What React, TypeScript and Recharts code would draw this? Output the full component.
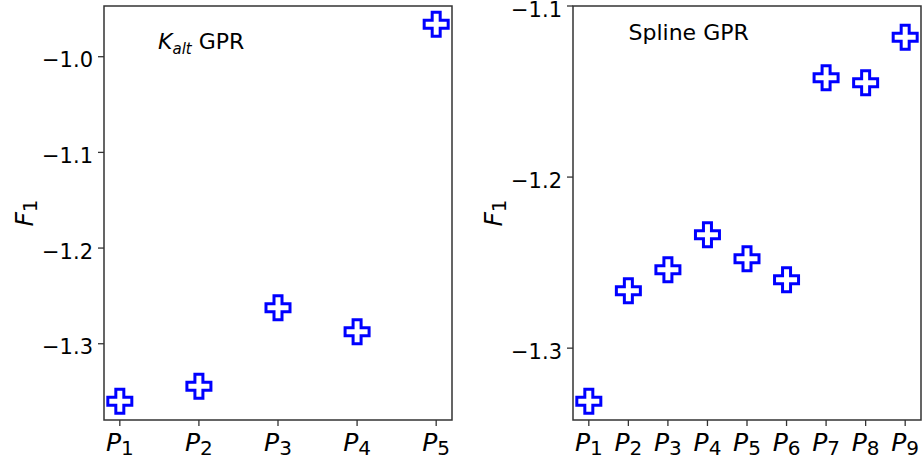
import React from 'react';
import { ScatterChart, Scatter, XAxis, YAxis, ReferenceArea } from 'recharts';

// K_alt GPR panel
const leftIdx = [1, 2, 3, 4, 5];
const leftF1 = [-1.360, -1.3445, -1.2625, -1.2875, -0.966];
const leftYTicks = [-1.3, -1.2, -1.1, -1.0];
const leftXDomain: [number, number] = [0.8, 5.2];
const leftYDomain: [number, number] = [-1.3797, -0.947];

// Spline GPR panel
const rightIdx = [1, 2, 3, 4, 5, 6, 7, 8, 9];
const rightF1 = [-1.331, -1.2664, -1.2542, -1.2337, -1.2477, -1.26, -1.142, -1.1449, -1.1182];
const rightYTicks = [-1.3, -1.2, -1.1];
const rightXDomain: [number, number] = [0.6, 9.4];
const rightYDomain: [number, number] = [-1.342, -1.1];

const FONT = '"DejaVu Sans", sans-serif';
const BLUE = '#0000ff';
const SPINE = '#333';

const toRows = (xs: number[], ys: number[]) => xs.map((x, i) => ({ x, y: ys[i] }));

// filled-plus marker ('P' style), white face with blue edge
function PlusMarker(props: any) {
  const { cx, cy } = props;
  if (cx == null || cy == null) return null;
  const s = 12;
  const a = 4;
  const d =
    `M${cx - a},${cy - s}L${cx + a},${cy - s}L${cx + a},${cy - a}L${cx + s},${cy - a}` +
    `L${cx + s},${cy + a}L${cx + a},${cy + a}L${cx + a},${cy + s}L${cx - a},${cy + s}` +
    `L${cx - a},${cy + a}L${cx - s},${cy + a}L${cx - s},${cy - a}L${cx - a},${cy - a}Z`;
  return <path d={d} fill="#fff" stroke={BLUE} strokeWidth={3} />;
}

function PTick(props: any) {
  const { x, y, payload } = props;
  return (
    <text x={x} y={y + 23} textAnchor="middle" fontFamily={FONT} fontSize={25} fill="#000">
      <tspan fontStyle="italic">P</tspan>
      <tspan fontSize={20} dy={4}>{payload.value}</tspan>
    </text>
  );
}

// y tick labels use a real minus sign
function YTick(props: any) {
  const { x, y, payload } = props;
  const label = Number(payload.value).toFixed(1).replace('-', '\u2212');
  return (
    <text x={x} y={y + 10.5} textAnchor="end" fontFamily={FONT} fontSize={21} fill="#000">
      {label}
    </text>
  );
}

type PanelProps = {
  rows: { x: number; y: number }[];
  ticksX: number[];
  ticksY: number[];
  xDomain: [number, number];
  yDomain: [number, number];
  width: number;
  yAxisWidth: number;
  marginRight: number;
};

function Panel({ rows, ticksX, ticksY, xDomain, yDomain, width, yAxisWidth, marginRight }: PanelProps) {
  return (
    <ScatterChart width={width} height={464} margin={{ top: 6, right: marginRight, bottom: 0, left: 0 }}>
      <XAxis
        type="number"
        dataKey="x"
        domain={xDomain}
        ticks={ticksX}
        interval={0}
        allowDataOverflow
        height={44}
        axisLine={false}
        tickSize={6}
        tickLine={{ stroke: SPINE, strokeWidth: 1.3 }}
        tick={<PTick />}
      />
      <YAxis
        type="number"
        dataKey="y"
        domain={yDomain}
        ticks={ticksY}
        interval={0}
        allowDataOverflow
        width={yAxisWidth}
        axisLine={false}
        tickSize={6}
        tickMargin={5}
        tickLine={{ stroke: SPINE, strokeWidth: 1.3 }}
        tick={<YTick />}
      />
      <ReferenceArea
        x1={xDomain[0]}
        x2={xDomain[1]}
        y1={yDomain[0]}
        y2={yDomain[1]}
        fill="none"
        fillOpacity={0}
        stroke={SPINE}
        strokeWidth={1.5}
        ifOverflow="visible"
      />
      <Scatter data={rows} shape={<PlusMarker />} isAnimationActive={false} />
    </ScatterChart>
  );
}

function F1Label({ x }: { x: number }) {
  return (
    <text transform={`translate(${x}, 213) rotate(-90)`} textAnchor="middle" fontFamily={FONT} fontSize={25} fill="#000">
      <tspan fontStyle="italic">F</tspan>
      <tspan fontSize={20} dy={4}>1</tspan>
    </text>
  );
}

export default function App() {
  return (
    <div style={{ position: 'absolute', left: 0, top: 0, width: 922, height: 464, background: '#fff' }}>
      <div style={{ position: 'absolute', left: 0, top: 0 }}>
        <Panel
          rows={toRows(leftIdx, leftF1)}
          ticksX={leftIdx}
          ticksY={leftYTicks}
          xDomain={leftXDomain}
          yDomain={leftYDomain}
          width={460}
          yAxisWidth={104}
          marginRight={8}
        />
      </div>
      <div style={{ position: 'absolute', left: 460, top: 0 }}>
        <Panel
          rows={toRows(rightIdx, rightF1)}
          ticksX={rightIdx}
          ticksY={rightYTicks}
          xDomain={rightXDomain}
          yDomain={rightYDomain}
          width={462}
          yAxisWidth={113}
          marginRight={1}
        />
      </div>
      <svg
        width={922}
        height={464}
        style={{ position: 'absolute', left: 0, top: 0, pointerEvents: 'none' }}
      >
        <F1Label x={33} />
        <F1Label x={502} />
        <text x={158} y={49} fontFamily={FONT} fontSize={22} fill="#000">
          <tspan fontStyle="italic">K</tspan>
          <tspan fontStyle="italic" fontSize={15} dy={5}>alt</tspan>
          <tspan dy={-5}> GPR</tspan>
        </text>
        <text x={628.5} y={40} fontFamily={FONT} fontSize={22} fill="#000">
          Spline GPR
        </text>
      </svg>
    </div>
  );
}
